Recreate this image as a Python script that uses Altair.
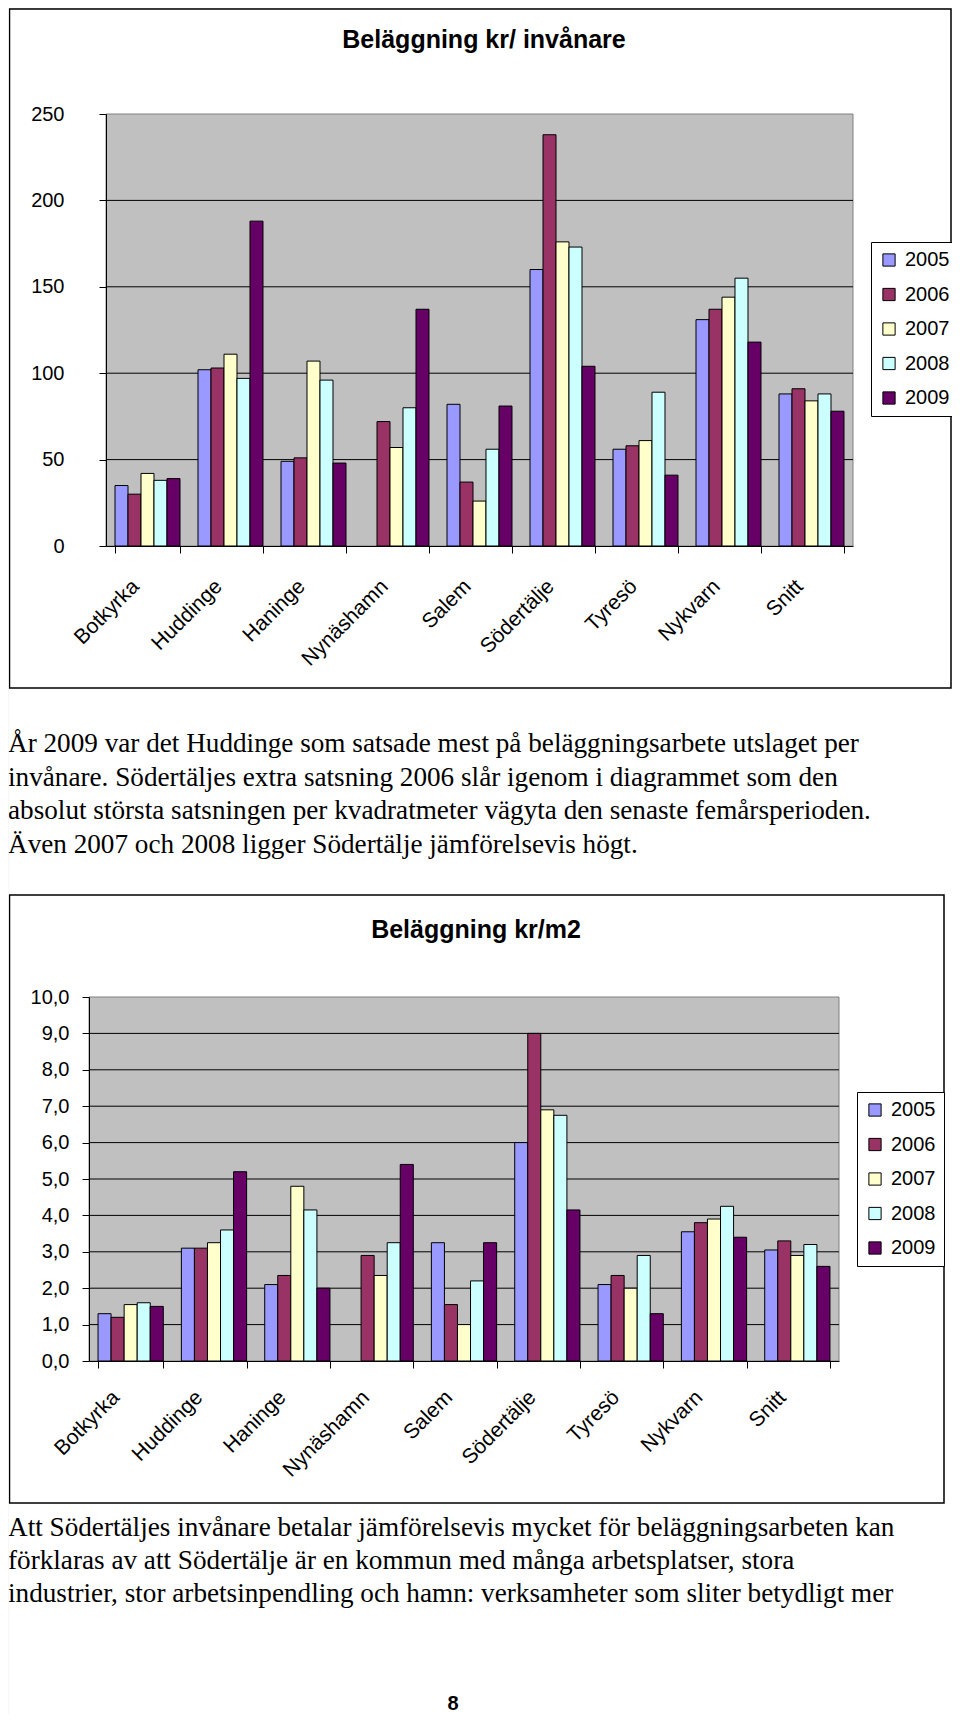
import altair as alt
import pandas as pd

# ---------------- data ----------------
categories = ["Botkyrka", "Huddinge", "Haninge", "Nynäshamn", "Salem",
              "Södertälje", "Tyresö", "Nykvarn", "Snitt"]
years = ["2005", "2006", "2007", "2008", "2009"]

inv_2005 = [35, 102, 49, None, 82, 160, 56, 131, 88]
inv_2006 = [30, 103, 51, 72, 37, 238, 58, 137, 91]
inv_2007 = [42, 111, 107, 57, 26, 176, 61, 144, 84]
inv_2008 = [38, 97, 96, 80, 56, 173, 89, 155, 88]
inv_2009 = [39, 188, 48, 137, 81, 104, 41, 118, 78]

m2_2005 = [1.3, 3.1, 2.1, None, 3.25, 6.0, 2.1, 3.55, 3.05]
m2_2006 = [1.2, 3.1, 2.35, 2.9, 1.55, 9.0, 2.35, 3.8, 3.3]
m2_2007 = [1.55, 3.25, 4.8, 2.35, 1.0, 6.9, 2.0, 3.9, 2.9]
m2_2008 = [1.6, 3.6, 4.15, 3.25, 2.2, 6.75, 2.9, 4.25, 3.2]
m2_2009 = [1.5, 5.2, 2.0, 5.4, 3.25, 4.15, 1.3, 3.4, 2.6]

ticks_inv = [0, 50, 100, 150, 200, 250]
grid_inv = [50, 100, 150, 200]
ticks_m2 = [0, 1, 2, 3, 4, 5, 6, 7, 8, 9, 10]
grid_m2 = [1, 2, 3, 4, 5, 6, 7, 8, 9]

title1 = "Beläggning kr/ invånare"
title2 = "Beläggning kr/m2"
para1 = [
    "År 2009 var det Huddinge som satsade mest på beläggningsarbete utslaget per",
    "invånare. Södertäljes extra satsning 2006 slår igenom i diagrammet som den",
    "absolut största satsningen per kvadratmeter vägyta den senaste femårsperioden.",
    "Även 2007 och 2008 ligger Södertälje jämförelsevis högt.",
]
para2 = [
    "Att Södertäljes invånare betalar jämförelsevis mycket för beläggningsarbeten kan",
    "förklaras av att Södertälje är en kommun med många arbetsplatser, stora",
    "industrier, stor arbetsinpendling och hamn: verksamheter som sliter betydligt mer",
]
page_number = "8"

colors = ["#9999FF", "#993366", "#FFFFCC", "#CCFFFF", "#660066"]


def long_df(series):
    rows = []
    for yr, vals in zip(years, series):
        for c, v in zip(categories, vals):
            rows.append({"kommun": c, "year": yr, "value": v})
    return pd.DataFrame(rows)


df1 = long_df([inv_2005, inv_2006, inv_2007, inv_2008, inv_2009])
df2 = long_df([m2_2005, m2_2006, m2_2007, m2_2008, m2_2009])
dummy = pd.DataFrame({"a": [0]})

# ---------------- layout (canvas px) ----------------
W, H = 944, 1706
SANS = "Liberation Sans"
SERIF = "Liberation Serif"


def bar_panel(df, grid_vals, tick_vals, ymax, px0, px1, py0, py1,
              box, title, title_xy, legend_xy, ylabel_pad, label_expr,
              xlab_pad, xlab_off):
    yscale = alt.Scale(domain=[0, ymax], range=[py0, py1], nice=False, zero=True)
    yaxis = alt.Axis(orient="left", offset=-px0, values=tick_vals, grid=False,
                     title=None, domainColor="black", tickColor="black",
                     tickSize=7, labelPadding=ylabel_pad, labelFont=SANS,
                     labelFontSize=20, labelColor="black", zindex=1,
                     labelExpr=label_expr)
    xaxis = alt.Axis(orient="bottom", offset=py0 - H, title=None, grid=False,
                     domainColor="black", tickColor="black", tickSize=7,
                     tickBand="extent", labelAngle=315, labelAlign="right",
                     labelBaseline="middle", labelPadding=xlab_pad,
                     labelOffset=xlab_off, labelFont=SANS, labelFontSize=21,
                     labelColor="black", labelOverlap=False, zindex=1)
    xscale = alt.Scale(range=[px0, px1], paddingInner=0.217, paddingOuter=0.1085)

    frame = alt.Chart(dummy).mark_rect(filled=False, stroke="black", strokeWidth=1.5).encode(
        x=alt.value(box[0]), x2=alt.value(box[1]), y=alt.value(box[2]), y2=alt.value(box[3]))
    bg = alt.Chart(dummy).mark_rect(fill="#C0C0C0", stroke="#808080", strokeWidth=1).encode(
        x=alt.value(px0), x2=alt.value(px1), y=alt.value(py1), y2=alt.value(py0))
    grid = alt.Chart(pd.DataFrame({"value": grid_vals})).mark_rule(
        color="black", strokeWidth=1).encode(
        y=alt.Y("value:Q", scale=yscale, axis=yaxis),
        x=alt.value(px0), x2=alt.value(px1))
    bars = alt.Chart(df).mark_bar(stroke="black", strokeWidth=1).encode(
        x=alt.X("kommun:N", sort=categories, scale=xscale, axis=xaxis),
        xOffset=alt.XOffset("year:N", sort=years,
                            scale=alt.Scale(paddingInner=0, paddingOuter=0)),
        y=alt.Y("value:Q", scale=yscale, axis=yaxis),
        color=alt.Color("year:N", sort=years,
                        scale=alt.Scale(domain=years, range=colors),
                        legend=alt.Legend(orient="none", legendX=legend_xy[0],
                                          legendY=legend_xy[1], title=None,
                                          symbolType="square", symbolSize=150,
                                          symbolStrokeColor="black",
                                          symbolStrokeWidth=1,
                                          labelFont=SANS, labelFontSize=20,
                                          labelColor="black", labelOffset=6,
                                          strokeColor="black", fillColor="white",
                                          padding=8, rowPadding=14.5)),
    )
    ttl = alt.Chart(dummy).mark_text(text=title, font=SANS, fontWeight="bold",
                                     fontSize=25, align="center",
                                     baseline="middle", color="black").encode(
        x=alt.value(title_xy[0]), y=alt.value(title_xy[1]))
    return alt.layer(frame, bg, grid, bars, ttl)


chart1 = bar_panel(df1, grid_inv, ticks_inv, 250, 98, 845, 538, 106,
                   (1.5, 943, 1, 680), title1, (476, 32), (863, 234), 35,
                   "format(datum.value, 'd')", 30, -12)
chart2 = bar_panel(df2, grid_m2, ticks_m2, 10, 81, 831, 1353, 989,
                   (1.5, 936, 887, 1495), title2, (468, 922), (849, 1084), 13,
                   "replace(format(datum.value, '.1f'), '.', ',')", 26, -15)

text1 = alt.Chart(dummy).mark_text(text=para1, align="left", baseline="alphabetic",
                                   font=SERIF, fontSize=27.2, lineHeight=33.5,
                                   color="black").encode(
    x=alt.value(0), y=alt.value(744))
text2 = alt.Chart(dummy).mark_text(text=para2, align="left", baseline="alphabetic",
                                   font=SERIF, fontSize=27.2, lineHeight=33,
                                   color="black").encode(
    x=alt.value(0), y=alt.value(1528))
pnum = alt.Chart(dummy).mark_text(text=page_number, align="center", baseline="alphabetic",
                                  font=SANS, fontWeight="bold", fontSize=20,
                                  color="black").encode(
    x=alt.value(445), y=alt.value(1702))
# white strip hiding the page-edge hairline
edge = alt.Chart(dummy).mark_rect(fill="white").encode(
    x=alt.value(0), x2=alt.value(0.75), y=alt.value(0), y2=alt.value(H))

chart = alt.layer(chart1, chart2, text1, text2, pnum, edge).resolve_scale(
    x="independent", y="independent", color="independent", xOffset="independent"
).resolve_legend(color="independent").properties(
    width=W, height=H, padding=0,
    autosize=alt.AutoSizeParams(type="none"),
).configure_view(stroke="transparent", strokeWidth=0).configure(background="white")

chart.save("out.html", embed_options={"renderer": "svg", "actions": False})
